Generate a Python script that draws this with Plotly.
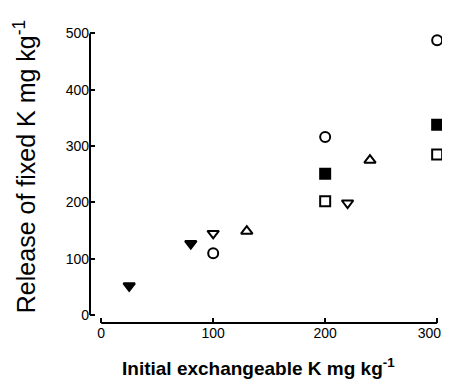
import plotly.graph_objects as go

# Data
tri_down_filled_x = [25, 80]
tri_down_filled_y = [52, 127]
tri_down_open_x = [100, 220]
tri_down_open_y = [145, 199]
circle_open_x = [100, 200, 300]
circle_open_y = [110, 316, 488]
tri_up_open_x = [130, 240]
tri_up_open_y = [149, 275]
square_filled_x = [200, 300]
square_filled_y = [251, 338]
square_open_x = [200, 300]
square_open_y = [202, 285]

x_ticks = [0, 100, 200, 300]
x_tick_labels = ["0", "100", "200", "300\u00a0\u00a0\u00a0\u00a0"]
y_ticks = [0, 100, 200, 300, 400, 500]

series = [
    (tri_down_filled_x, tri_down_filled_y, "triangle-down"),
    (tri_down_open_x, tri_down_open_y, "triangle-down-open"),
    (circle_open_x, circle_open_y, "circle-open"),
    (tri_up_open_x, tri_up_open_y, "triangle-up-open"),
    (square_filled_x, square_filled_y, "square"),
    (square_open_x, square_open_y, "square-open"),
]

fig = go.Figure()
for xs, ys, sym in series:
    fig.add_trace(go.Scatter(
        x=xs, y=ys, mode="markers",
        marker=dict(symbol=sym, size=10, color="black",
                    line=dict(color="black", width=2)),
        showlegend=False, cliponaxis=False,
    ))

# axis lines spanning only the tick range
fig.add_shape(type="line", xref="x", yref="paper", x0=0, x1=300, y0=0, y1=0,
              line=dict(color="black", width=2))
fig.add_shape(type="line", xref="paper", yref="y", x0=0, x1=0, y0=0, y1=500,
              line=dict(color="black", width=2))

font = "Liberation Sans, Arial, sans-serif"

fig.add_annotation(text="<b>Initial exchangeable K mg kg<sup>-1</sup></b>",
                   xref="paper", yref="paper", x=0.476, y=-0.148,
                   xanchor="center", yanchor="middle", showarrow=False,
                   font=dict(size=19, color="black", family=font))
fig.add_annotation(text="Release of fixed K mg kg<sup>-1</sup>",
                   xref="paper", yref="paper", x=-0.183, y=0.523,
                   xanchor="center", yanchor="middle", showarrow=False,
                   textangle=-90,
                   font=dict(size=25, color="black", family=font))

fig.update_layout(
    width=442, height=377,
    margin=dict(l=82, r=5, t=17, b=62),
    plot_bgcolor="white", paper_bgcolor="white",
    font=dict(family=font, color="black"),
    xaxis=dict(range=[-10, 307], tickvals=x_ticks, ticktext=x_tick_labels,
               ticks="inside", ticklen=5,
               tickwidth=1.5, tickcolor="black", showgrid=False, zeroline=False,
               showline=False, automargin=False, ticklabeloverflow="allow",
               tickfont=dict(size=14, color="black")),
    yaxis=dict(range=[-14, 515], tickvals=y_ticks, ticks="inside", ticklen=5,
               tickwidth=1.5, tickcolor="black", showgrid=False, zeroline=False,
               showline=False, automargin=False,
               tickfont=dict(size=14, color="black")),
)

fig.write_html("out.html")
